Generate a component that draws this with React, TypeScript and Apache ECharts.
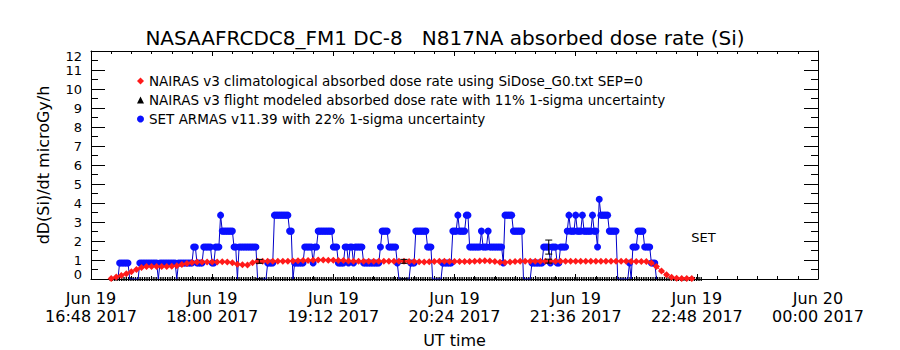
import React, { useEffect, useRef } from "react";
import * as echarts from "echarts";

const TITLE = "NASAAFRCDC8_FM1 DC-8   N817NA absorbed dose rate (Si)";
const X_AXIS_NAME = "UT time";
const Y_AXIS_NAME = "dD(Si)/dt microGy/h";
const SERIES_NAMES = [
  "NAIRAS v3 climatological absorbed dose rate using SiDose_G0.txt SEP=0",
  "NAIRAS v3 flight modeled absorbed dose rate with 11% 1-sigma uncertainty",
  "SET ARMAS v11.39 with 22% 1-sigma uncertainty",
];
const INSTRUMENT_LABEL = "SET";
const MONTHS = ["Jan", "Feb", "Mar", "Apr", "May", "Jun", "Jul", "Aug", "Sep", "Oct", "Nov", "Dec"];

// x axis: minutes after 2017-06-19 16:48 UT
const AXIS_START_UTC = Date.UTC(2017, 5, 19, 16, 48);
const AXIS_SPAN_MIN = 432;
const AXIS_TICK_MIN = 72;
const Y_MIN = 0;
const Y_MAX = 12;
const Y_LABELS_EVEN = [0, 2, 4, 6, 8, 10, 12];
const Y_LABELS_ODD = [1, 3, 5, 7, 9, 11];

// NAIRAS climatological dose rate, sampled every 3 minutes from minute 12
const RED_START_MIN = 12;
const RED_STEP_MIN = 3;
const RED_DOSE = [
  0.03, 0.1, 0.19, 0.28, 0.38, 0.5, 0.6, 0.66, 0.66, 0.66,
  0.66, 0.66, 0.67, 0.7, 0.76, 0.82, 0.87, 0.89, 0.9, 0.9,
  0.9, 0.9, 0.91, 0.9, 0.85, 0.78, 0.75, 0.74, 0.86, 0.93,
  0.93, 0.93, 0.93, 0.93, 0.94, 0.94, 0.95, 0.96, 0.97, 0.98,
  0.99, 1.0, 1.0, 0.99, 0.99, 0.98, 0.97, 0.95, 0.94, 0.93,
  0.93, 0.93, 0.93, 0.93, 0.93, 0.93, 0.94, 0.94, 0.93, 0.92,
  0.92, 0.91, 0.9, 0.91, 0.92, 0.93, 0.93, 0.92, 0.92, 0.92,
  0.92, 0.92, 0.93, 0.95, 0.96, 0.95, 0.92, 0.88, 0.87, 0.9,
  0.92, 0.93, 0.93, 0.93, 0.93, 0.93, 0.93, 0.93, 0.93, 0.93,
  0.93, 0.93, 0.93, 0.93, 0.93, 0.93, 0.93, 0.93, 0.93, 0.93,
  0.93, 0.93, 0.93, 0.92, 0.92, 0.92, 0.92, 0.84, 0.66, 0.42,
  0.23, 0.09, 0.04, 0.03, 0.03, 0.03,
];

// SET ARMAS 1-minute samples, run-length coded: a run starts at a minute and holds its dose
const SET_RUN_START_MIN = [
  14, 17, 23, 29, 40, 41, 51, 52, 61, 63, 67, 72, 74, 77, 78, 85, 87, 88, 99, 105,
  109, 118, 120, 121, 127, 132, 133, 135, 144, 147, 151, 153, 154, 156, 157, 162, 172, 173, 177, 182,
  183, 190, 193, 200, 203, 209, 215, 218, 219, 223, 225, 232, 233, 236, 237, 245, 246, 251, 257, 262,
  269, 273, 274, 277, 279, 283, 284, 285, 288, 289, 292, 293, 298, 299, 301, 302, 303, 308, 313, 320,
  321, 322, 325, 329, 333, 336,
];
const SET_RUN_DOSE = [
  0, 0.84, 0, 0.84, 0, 0.84, 0, 0.84, 1.68, 0.84, 1.68, 0.84, 1.68, 3.36, 2.52, 1.68, 0, 1.68, 0, 0.84,
  3.36, 2.52, 0, 0.84, 1.68, 0.84, 1.68, 2.52, 1.68, 0.84, 1.68, 0.84, 1.68, 0.84, 1.68, 0.84, 1.68, 2.52, 1.68, 0.84,
  0, 0.84, 2.52, 1.68, 0, 0.84, 2.52, 3.36, 2.52, 3.36, 1.68, 2.52, 1.68, 2.52, 1.68, 0.84, 3.36, 2.52, 0, 0.84,
  1.68, 0.84, 1.68, 0.84, 1.68, 2.52, 3.36, 2.52, 3.36, 2.52, 3.36, 2.52, 3.36, 2.52, 1.68, 4.2, 3.36, 2.52, 0, 0.84,
  0, 1.68, 2.52, 1.68, 0.84, 0,
];

// NAIRAS flight modeled: zero along the flight, values at the modeled points
const FLIGHT_ZERO_SPAN_MIN = [11, 363];
const FLIGHT_POINT_MIN = [100, 186, 272];
const FLIGHT_POINT_DOSE = [0.93, 0.93, 0.94];
const FLIGHT_SIGMA = 0.11;
const SET_SIGMA = 0.22;

const FONT = "DejaVu Sans";
const RED = "#ff1a1a";
const BLUE = "#0a10ff";
const BLUE_LINE = "#0000c8";

function pad(n: number) {
  return n < 10 ? "0" + n : "" + n;
}

function formatTime(v: number) {
  const d = new Date(AXIS_START_UTC + v * 60000);
  return `${MONTHS[d.getUTCMonth()]} ${d.getUTCDate()}\n${pad(d.getUTCHours())}:${pad(d.getUTCMinutes())} ${d.getUTCFullYear()}`;
}

function doseFormatter(allowed: number[]) {
  return (v: number) => {
    if (allowed.indexOf(v) < 0) return "";
    if (v === Y_MIN) return `{lo|${v}}`;
    if (v === Y_MAX) return `{hi|${v}}`;
    return `${v}`;
  };
}

function buildSet(): [number, number][] {
  const out: [number, number][] = [];
  for (let i = 0; i < SET_RUN_START_MIN.length; i++) {
    const s = SET_RUN_START_MIN[i];
    const e = i + 1 < SET_RUN_START_MIN.length ? SET_RUN_START_MIN[i + 1] - 1 : s;
    for (let m = s; m <= e; m++) out.push([m, SET_RUN_DOSE[i]]);
  }
  return out;
}

function errorBarItem(color: string) {
  return (params: any, api: any) => {
    const x = api.value(0);
    const v = api.value(1);
    const e = api.value(2);
    const top = api.coord([x, v + e]);
    const bot = api.coord([x, v - e]);
    const w = 3.5;
    const style = { stroke: color, lineWidth: 1 };
    return {
      type: "group",
      children: [
        { type: "line", shape: { x1: top[0], y1: top[1], x2: bot[0], y2: bot[1] }, style },
        { type: "line", shape: { x1: top[0] - w, y1: top[1], x2: top[0] + w, y2: top[1] }, style },
        { type: "line", shape: { x1: bot[0] - w, y1: bot[1], x2: bot[0] + w, y2: bot[1] }, style },
      ],
    };
  };
}

export default function App() {
  const ref = useRef<HTMLDivElement>(null);

  useEffect(() => {
    if (!ref.current) return;
    const chart = echarts.init(ref.current, undefined, { renderer: "svg" });

    const setData = buildSet();
    const redData = RED_DOSE.map((v, i) => [RED_START_MIN + i * RED_STEP_MIN, v]);
    const setAt = (m: number) => {
      const p = setData.find((d) => d[0] === m);
      return p ? p[1] : 0;
    };
    const flightErr = FLIGHT_POINT_MIN.map((m, i) => [m, FLIGHT_POINT_DOSE[i], FLIGHT_POINT_DOSE[i] * FLIGHT_SIGMA]);
    const setErr = FLIGHT_POINT_MIN.map((m) => [m, setAt(m), setAt(m) * SET_SIGMA]);

    const axisLineStyle = { color: "#000", width: 1 };
    const xCommon = {
      type: "value",
      min: 0,
      max: AXIS_SPAN_MIN,
      interval: AXIS_TICK_MIN,
      axisLine: { show: true, onZero: false, lineStyle: axisLineStyle },
      axisTick: { show: true, inside: true, length: 5, lineStyle: axisLineStyle },
      minorTick: { show: true, splitNumber: 6, length: 3, lineStyle: axisLineStyle },
      splitLine: { show: false },
      minorSplitLine: { show: false },
    };
    const yCommon = {
      type: "value",
      min: Y_MIN,
      max: Y_MAX,
      interval: 1,
      axisLine: { show: true, onZero: false, lineStyle: axisLineStyle },
      axisTick: { show: true, inside: true, length: 14, lineStyle: axisLineStyle },
      minorTick: { show: true, splitNumber: 2, length: 7, lineStyle: axisLineStyle },
      splitLine: { show: false },
      minorSplitLine: { show: false },
    };
    const yLabelBase = {
      show: true,
      interval: 0,
      hideOverlap: false,
      margin: 9,
      fontFamily: FONT,
      fontSize: 13,
      lineHeight: 12,
      color: "#000",
      showMinLabel: true,
      showMaxLabel: true,
      rich: {
        lo: { fontFamily: FONT, fontSize: 13, lineHeight: 12, color: "#000", padding: [0, 0, 10, 0] },
        hi: { fontFamily: FONT, fontSize: 13, lineHeight: 12, color: "#000", padding: [11, 0, 0, 0] },
      },
    };

    const legendIcons = ["diamond", "triangle", "circle"];
    const legendTops = [74, 93, 112];

    const option: any = {
      animation: false,
      backgroundColor: "#fff",
      textStyle: { fontFamily: FONT, color: "#000" },
      title: {
        text: TITLE,
        left: 445,
        top: 28,
        padding: 0,
        textAlign: "center",
        textStyle: { fontFamily: FONT, fontSize: 20, fontWeight: "normal", color: "#000" },
      },
      legend: SERIES_NAMES.map((name, i) => ({
        data: [{ name, icon: legendIcons[i] }],
        left: 137,
        top: legendTops[i],
        padding: 0,
        itemWidth: 7,
        itemHeight: 7,
        selectedMode: false,
        textStyle: { fontFamily: FONT, fontSize: 13.5, color: "#000" },
      })),
      grid: { left: 91, right: 82, top: 51, bottom: 71, containLabel: false, outerBoundsMode: "none" },
      xAxis: [
        {
          ...xCommon,
          position: "bottom",
          name: X_AXIS_NAME,
          nameLocation: "middle",
          nameGap: 53,
          nameTextStyle: { fontFamily: FONT, fontSize: 16, color: "#000" },
          axisLabel: {
            show: true,
            interval: 0,
            margin: 10,
            fontFamily: FONT,
            fontSize: 16,
            lineHeight: 18,
            color: "#000",
            showMinLabel: true,
            showMaxLabel: true,
            formatter: formatTime,
          },
        },
        { ...xCommon, position: "top", axisLabel: { show: false } },
      ],
      yAxis: [
        {
          ...yCommon,
          position: "left",
          name: Y_AXIS_NAME,
          nameLocation: "middle",
          nameGap: 40,
          nameTextStyle: { fontFamily: FONT, fontSize: 16, color: "#000" },
          axisLabel: {
            ...yLabelBase,
            customValues: Y_LABELS_EVEN,
            formatter: doseFormatter(Y_LABELS_EVEN),
          },
        },
        { ...yCommon, position: "right", axisLabel: { show: false } },
        {
          ...yCommon,
          position: "left",
          offset: 0,
          axisLine: { show: false },
          axisTick: { show: false },
          minorTick: { show: false },
          axisLabel: {
            ...yLabelBase,
            customValues: Y_LABELS_ODD,
            formatter: doseFormatter(Y_LABELS_ODD),
          },
        },
      ],
      graphic: [
        {
          type: "text",
          x: 703.5,
          y: 237.5,
          style: {
            text: INSTRUMENT_LABEL,
            fontFamily: FONT,
            fontSize: 13,
            fill: "#000",
            align: "center",
            verticalAlign: "middle",
            textAlign: "center",
            textVerticalAlign: "middle",
          },
        },
      ],
      series: [
        {
          name: SERIES_NAMES[1],
          type: "line",
          data: [
            [FLIGHT_ZERO_SPAN_MIN[0], 0],
            [FLIGHT_ZERO_SPAN_MIN[1], 0],
          ],
          symbol: "none",
          lineStyle: { color: "#000", width: 4, type: [1.4, 0.9] },
          itemStyle: { color: "#000" },
          z: 2,
        },
        {
          name: SERIES_NAMES[1],
          type: "scatter",
          data: FLIGHT_POINT_MIN.map((m, i) => [m, FLIGHT_POINT_DOSE[i]]),
          symbol: "triangle",
          symbolSize: 5,
          itemStyle: { color: "#000" },
          z: 2,
        },
        {
          name: SERIES_NAMES[2],
          type: "line",
          data: setData.map((d) => ({ value: d, symbol: d[1] === 0 ? "none" : "circle" })),
          symbol: "circle",
          symbolSize: 7,
          showAllSymbol: true,
          lineStyle: { color: BLUE_LINE, width: 1 },
          itemStyle: { color: BLUE },
          z: 3,
        },
        {
          name: SERIES_NAMES[0],
          type: "line",
          data: redData,
          symbol: "diamond",
          symbolSize: 7,
          showAllSymbol: true,
          lineStyle: { color: RED, width: 1 },
          itemStyle: { color: RED },
          z: 4,
        },
        {
          type: "custom",
          data: flightErr,
          renderItem: errorBarItem("#000"),
          z: 5,
          silent: true,
        },
        {
          type: "custom",
          data: setErr,
          renderItem: errorBarItem("#000"),
          z: 5,
          silent: true,
        },
      ],
    };

    chart.setOption(option);
    return () => chart.dispose();
  }, []);

  return (
    <div
      ref={ref}
      style={{ position: "absolute", left: 0, top: 0, width: 900, height: 350, background: "#fff" }}
    />
  );
}
